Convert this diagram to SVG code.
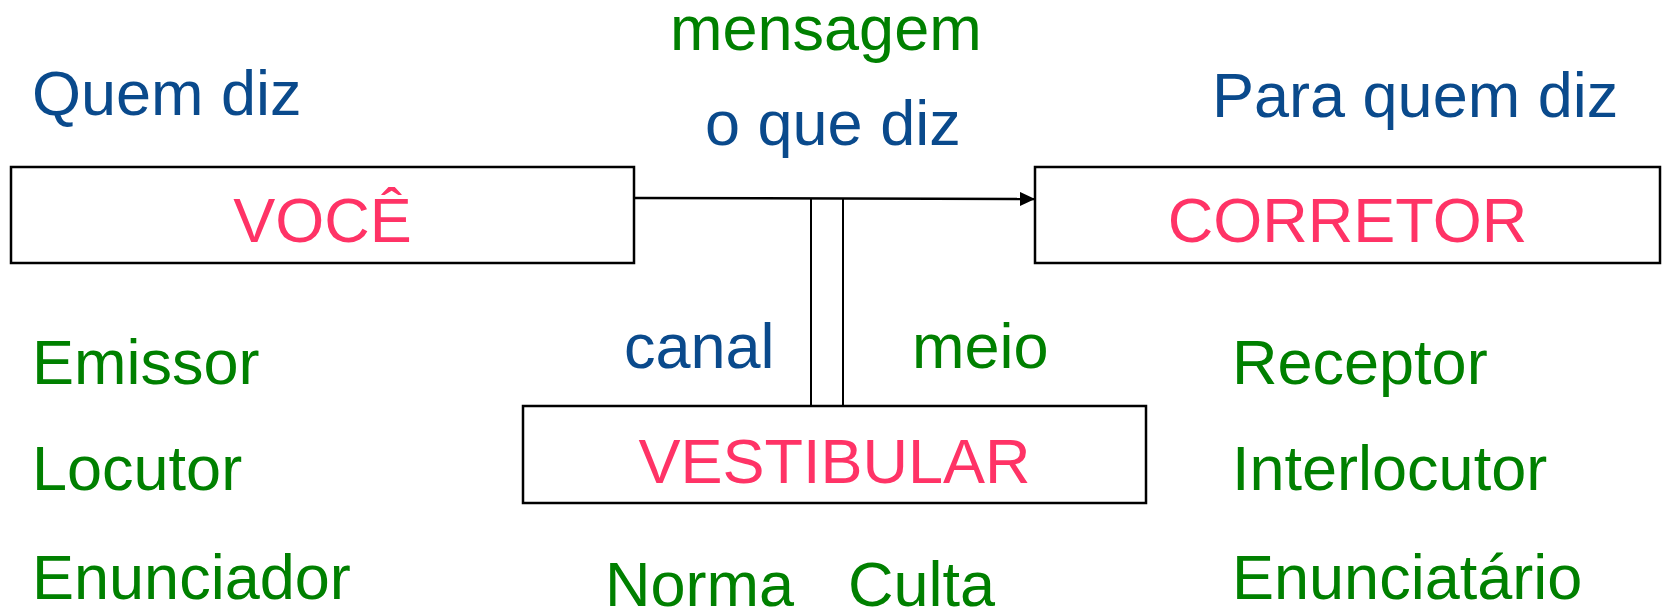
<svg xmlns="http://www.w3.org/2000/svg" width="1663" height="613" viewBox="0 0 1663 613">
<style>
text{font-family:"Liberation Sans",Arial,sans-serif;font-size:63px}
.b{fill:#0A4A8C}
.g{fill:#008000}
.p{fill:#FF3366}
.box{fill:#fff;stroke:#000;stroke-width:2.5}
.ln{fill:none;stroke:#000;stroke-width:2}
</style>
<defs>
<marker id="arr" markerWidth="15" markerHeight="14" refX="15" refY="7" orient="auto" markerUnits="userSpaceOnUse" viewBox="0 0 15 14">
<path d="M0,0 L15,7 L0,14 z" fill="#000"/>
</marker>
</defs>
<rect width="1663" height="613" fill="#fff"/>
<g id="connectors">
<line class="ln" x1="634" y1="198" x2="1035" y2="199" style="stroke-width:2.5" marker-end="url(#arr)"/>
<line class="ln" x1="811" y1="199" x2="811" y2="406"/>
<line class="ln" x1="843" y1="199" x2="843" y2="406"/>
</g>
<g id="voce">
<rect class="box" x="11" y="167" width="623" height="96"/>
<text class="p" x="322.5" y="242" text-anchor="middle">VOCÊ</text>
</g>
<g id="corretor">
<rect class="box" x="1035" y="167" width="625" height="96"/>
<text class="p" x="1347.5" y="242" text-anchor="middle">CORRETOR</text>
</g>
<g id="vestibular">
<rect class="box" x="523" y="406" width="623" height="97"/>
<text class="p" x="834.5" y="483" text-anchor="middle">VESTIBULAR</text>
</g>
<g id="labels">
<text class="b" x="32" y="115">Quem diz</text>
<text class="g" x="670" y="50">mensagem</text>
<text class="b" x="705" y="145">o que diz</text>
<text class="b" x="1212" y="117">Para quem diz</text>
<text class="b" x="624" y="368">canal</text>
<text class="g" x="912" y="368">meio</text>
<text class="g" x="32" y="384">Emissor</text>
<text class="g" x="32" y="490">Locutor</text>
<text class="g" x="32" y="599">Enunciador</text>
<text class="g" x="1232" y="384">Receptor</text>
<text class="g" x="1232" y="490">Interlocutor</text>
<text class="g" x="1232" y="599">Enunciatário</text>
<text class="g" x="605" y="606">Norma</text>
<text class="g" x="848" y="606">Culta</text>
</g>
</svg>
